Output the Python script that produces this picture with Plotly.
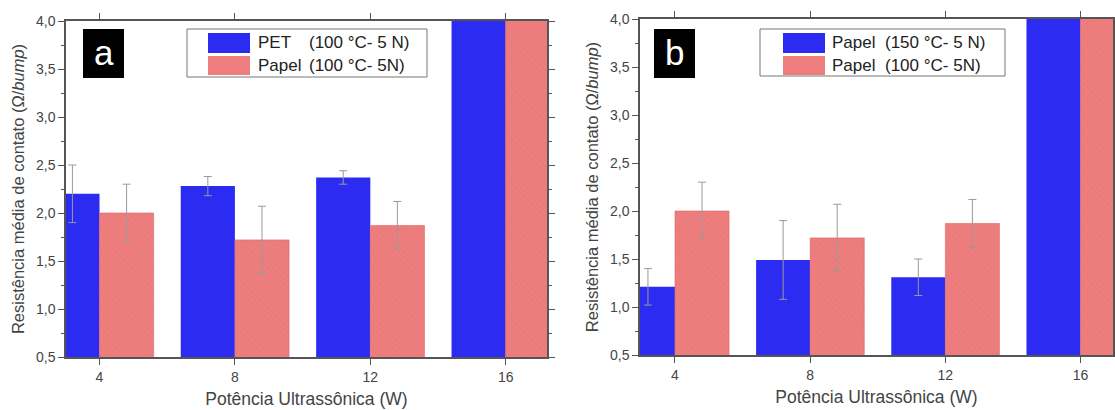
import plotly.graph_objects as go

# ---------------- data ----------------
power = [4, 8, 12, 16]                      # Potência Ultrassônica (W)
pet_100 = [2.20, 2.28, 2.37, 5.00]          # panel a, PET (100 °C- 5 N)
pet_100_err = [0.30, 0.10, 0.07, 0.0]
papel_100 = [2.00, 1.72, 1.87, 5.00]        # panels a & b, Papel (100 °C- 5N)
papel_100_err = [0.30, 0.35, 0.25, 0.0]
papel_150 = [1.21, 1.49, 1.31, 5.00]        # panel b, Papel (150 °C- 5 N)
papel_150_err = [0.19, 0.41, 0.19, 0.0]

legend_a = [("PET", "(100 °C- 5 N)"), ("Papel", "(100 °C- 5N)")]
legend_b = [("Papel", "(150 °C- 5 N)"), ("Papel", "(100 °C- 5N)")]
y_ticks = [0.5, 1.0, 1.5, 2.0, 2.5, 3.0, 3.5, 4.0]

# ---------------- styles ----------------
W, H = 1115, 410
BLUE = "#2B2BF2"
RED = "#EE7E7E"
RED_FG = "#DA6767"
AXC = "#555555"
TXT = "#444444"
FONT = "Liberation Sans, Arial, sans-serif"
BW = 1.6


def px(x):
    return x / W


def py(y):
    return 1 - y / H


def bars(x, y, err, color, offset, xa, ya, hatched):
    marker = dict(color=color, line=dict(width=0))
    if hatched:
        marker = dict(color=color, line=dict(width=0.6, color=RED_FG),
                      pattern=dict(shape="\\", fgcolor=RED_FG, bgcolor=color,
                                   size=4, solidity=0.15))
    return go.Bar(x=x, y=y, width=BW, offset=offset, marker=marker,
                  error_y=dict(type="data", array=err, color="#9a9a9a",
                               thickness=1, width=4),
                  xaxis=xa, yaxis=ya, showlegend=False)


fig = go.Figure()
fig.add_trace(bars(power, pet_100, pet_100_err, BLUE, -BW, "x", "y", False))
fig.add_trace(bars(power, papel_100, papel_100_err, RED, 0, "x", "y", True))
fig.add_trace(bars(power, papel_150, papel_150_err, BLUE, -BW, "x2", "y2", False))
fig.add_trace(bars(power, papel_100, papel_100_err, RED, 0, "x2", "y2", True))

xcommon = dict(tickvals=power, ticktext=[str(v) for v in power],
               showline=True, linecolor=AXC, linewidth=1.5, mirror="ticks",
               ticks="outside", ticklen=6, tickcolor=AXC, tickwidth=1.2,
               showgrid=False, zeroline=False,
               tickfont=dict(size=14, color=TXT, family=FONT),
               title=dict(text="Potência Ultrassônica (W)", standoff=9,
                          font=dict(size=17.5, color=TXT, family=FONT)),
               automargin=False)
ycommon = dict(range=[0.5, 4.0], tickvals=y_ticks, tickformat=".1f",
               showline=True, linecolor=AXC, linewidth=1.5, mirror="ticks",
               ticks="outside", ticklen=6, tickcolor=AXC, tickwidth=1.2,
               minor=dict(dtick=0.25, ticks="outside", ticklen=3,
                          tickcolor=AXC, tickwidth=1),
               showgrid=False, zeroline=False,
               tickfont=dict(size=14, color=TXT, family=FONT),
               title=dict(text="Resistência média de contato (Ω/<i>bump</i>)",
                          standoff=7,
                          font=dict(size=16.5, color=TXT, family=FONT)),
               automargin=False)

fig.update_layout(
    width=W, height=H, autosize=False,
    margin=dict(l=0, r=0, t=0, b=0),
    paper_bgcolor="white", plot_bgcolor="white",
    separators=",.",
    barmode="overlay",
    font=dict(family=FONT, color=TXT),
    xaxis=dict(xcommon, domain=[px(66), px(547)], range=[3.01, 17.22], anchor="y"),
    yaxis=dict(ycommon, domain=[py(357), py(21)], anchor="x"),
    xaxis2=dict(xcommon, domain=[px(640), px(1113)], range=[2.965, 16.96], anchor="y2"),
    yaxis2=dict(ycommon, domain=[py(355), py(19)], anchor="x2"),
)

shapes = []
annotations = []


def panel_label(letter, x0, y0):
    shapes.append(dict(type="rect", xref="paper", yref="paper",
                       x0=px(x0), x1=px(x0 + 41), y0=py(y0 + 49), y1=py(y0),
                       fillcolor="black", line=dict(width=0), layer="above"))
    annotations.append(dict(text=letter, xref="paper", yref="paper",
                            x=px(x0 + 20.5), y=py(y0 + 23), showarrow=False,
                            xanchor="center", yanchor="middle",
                            font=dict(size=35, color="white", family=FONT)))


def legend_box(entries, x0, x1, y0, y1, sw_x0, name_x, cond_x):
    shapes.append(dict(type="rect", xref="paper", yref="paper",
                       x0=px(x0), x1=px(x1), y0=py(y1), y1=py(y0),
                       fillcolor="white", line=dict(width=1, color="#777777"),
                       layer="above"))
    rows = [(y0 + 4, y0 + 24, BLUE), (y0 + 27, y0 + 46, RED)]
    for (name, cond), (ry0, ry1, col) in zip(entries, rows):
        shapes.append(dict(type="rect", xref="paper", yref="paper",
                           x0=px(sw_x0), x1=px(sw_x0 + 42), y0=py(ry1), y1=py(ry0),
                           fillcolor=col, line=dict(width=0), layer="above"))
        yc = py((ry0 + ry1) / 2)
        annotations.append(dict(text=name, xref="paper", yref="paper",
                                x=px(name_x), y=yc, xanchor="left", yanchor="middle",
                                showarrow=False, borderpad=0,
                                font=dict(size=17, color="#222222", family=FONT)))
        annotations.append(dict(text=cond, xref="paper", yref="paper",
                                x=px(cond_x), y=yc, xanchor="left", yanchor="middle",
                                showarrow=False, borderpad=0,
                                font=dict(size=17, color="#222222", family=FONT)))


panel_label("a", 83, 29)
panel_label("b", 654, 29)
legend_box(legend_a, 187, 427, 29, 77, 208, 257, 308)
legend_box(legend_b, 760, 1005, 29, 76, 783, 831, 884)

fig.update_layout(shapes=shapes, annotations=annotations)

fig.write_html("out.html",
               config={"displayModeBar": False},
               post_script="document.body.style.margin='0';"
                           "document.body.style.overflow='hidden';")
